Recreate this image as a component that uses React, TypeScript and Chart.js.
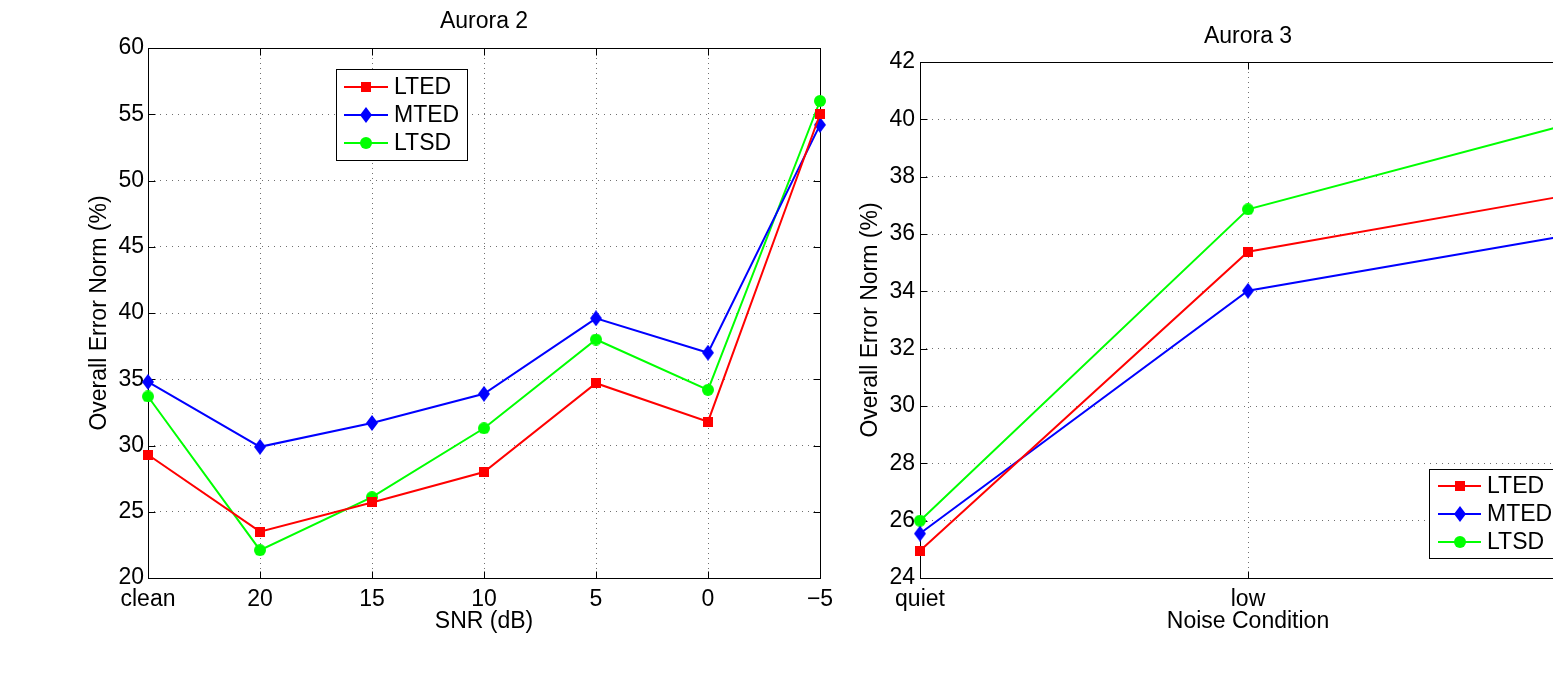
import React, { useEffect, useRef } from 'react';
import { Chart, registerables } from 'chart.js';

Chart.register(...registerables);

const FONT = '"Liberation Sans", Arial, Helvetica, sans-serif';
const FS = 23;

// ---------- data ----------
const seriesNames = ['LTED', 'MTED', 'LTSD'];
const seriesColors = ['#ff0000', '#0000ff', '#00ff00'];

// Aurora 2
const snrLabels = ['clean', '20', '15', '10', '5', '0', '−5'];
const a2LTED = [29.3, 23.5, 25.7, 28.0, 34.7, 31.8, 55.0];
const a2MTED = [34.8, 29.9, 31.7, 33.9, 39.6, 37.0, 54.2];
const a2LTSD = [33.7, 22.1, 26.1, 31.3, 38.0, 34.2, 56.0];
const a2YTicks = [20, 25, 30, 35, 40, 45, 50, 55, 60];

// Aurora 3
const noiseLabels = ['quiet', 'low', 'high'];
const a3LTED = [24.95, 35.38, 37.4];
const a3MTED = [25.55, 34.02, 36.0];
const a3LTSD = [26.0, 36.86, 39.9];
const a3YTicks = [24, 26, 28, 30, 32, 34, 36, 38, 40, 42];

// ---------- markers ----------
function makeMarker(kind: string, color: string): HTMLCanvasElement {
  const c = document.createElement('canvas');
  const ctx = c.getContext('2d')!;
  if (kind === 'square') {
    c.width = 10; c.height = 10;
    ctx.fillStyle = color;
    ctx.fillRect(0, 0, 10, 10);
  } else if (kind === 'diamond') {
    c.width = 12; c.height = 16;
    ctx.fillStyle = color;
    ctx.beginPath();
    ctx.moveTo(6, 0); ctx.lineTo(12, 8); ctx.lineTo(6, 16); ctx.lineTo(0, 8);
    ctx.closePath(); ctx.fill();
  } else {
    c.width = 12; c.height = 12;
    ctx.fillStyle = color;
    ctx.beginPath();
    ctx.arc(6, 6, 6, 0, Math.PI * 2);
    ctx.fill();
  }
  return c;
}

// ---------- plugin: MATLAB-like box, inner ticks, title, legend ----------
const matlabPlugin = {
  id: 'matlab',
  beforeDatasetsDraw(chart: any, _a: any, opts: any) {
    const ctx = chart.ctx;
    const { left, right, top, bottom } = chart.chartArea;
    const L = Math.round(left) + 0.5, R = Math.round(right) + 0.5;
    const T = Math.round(top) + 0.5, B = Math.round(bottom) + 0.5;
    ctx.save();
    ctx.strokeStyle = '#000';
    ctx.lineWidth = 1;
    ctx.setLineDash([]);
    ctx.strokeRect(L, T, R - L, B - T);
    const tl = opts.tickLen || 7;
    ctx.beginPath();
    const xs = chart.scales.x, ys = chart.scales.y;
    xs.ticks.forEach((_t: any, i: number) => {
      const px = Math.round(xs.getPixelForTick(i)) + 0.5;
      ctx.moveTo(px, B); ctx.lineTo(px, B - tl);
      ctx.moveTo(px, T); ctx.lineTo(px, T + tl);
    });
    ys.ticks.forEach((_t: any, i: number) => {
      const py = Math.round(ys.getPixelForTick(i)) + 0.5;
      ctx.moveTo(L, py); ctx.lineTo(L + tl, py);
      ctx.moveTo(R, py); ctx.lineTo(R - tl, py);
    });
    ctx.stroke();
    ctx.restore();
  },
  afterDraw(chart: any, _a: any, opts: any) {
    const ctx = chart.ctx;
    const { left, right } = chart.chartArea;
    ctx.save();
    // title
    ctx.fillStyle = '#000';
    ctx.font = `${opts.titleSize}px ${FONT}`;
    ctx.textAlign = 'center';
    ctx.textBaseline = 'alphabetic';
    ctx.fillText(opts.title, (left + right) / 2, opts.titleY);
    // legend
    const lg = opts.legend;
    ctx.fillStyle = '#fff';
    ctx.fillRect(lg.x, lg.y, lg.w, lg.h);
    ctx.strokeStyle = '#000';
    ctx.lineWidth = 1;
    ctx.strokeRect(lg.x + 0.5, lg.y + 0.5, lg.w, lg.h);
    ctx.font = `${opts.legendSize}px ${FONT}`;
    ctx.textAlign = 'left';
    ctx.textBaseline = 'middle';
    chart.data.datasets.forEach((ds: any, i: number) => {
      const cy = Math.round(lg.y + lg.first + i * lg.row);
      ctx.strokeStyle = ds.borderColor;
      ctx.lineWidth = 2;
      ctx.beginPath();
      ctx.moveTo(lg.x + lg.s1, cy);
      ctx.lineTo(lg.x + lg.s2, cy);
      ctx.stroke();
      const img = ds.pointStyle as HTMLCanvasElement;
      const mx = lg.x + (lg.s1 + lg.s2) / 2;
      ctx.drawImage(img, Math.round(mx - img.width / 2), Math.round(cy - img.height / 2));
      ctx.fillStyle = '#000';
      ctx.fillText(ds.label, lg.x + lg.text, cy + 1);
    });
    ctx.restore();
  },
};

type PanelSpec = {
  canvasLeft: number;
  width: number;
  labels: string[];
  series: number[][];
  yTicks: number[];
  xTitle: string;
  title: string;
  titleY: number;
  padTop: number;
  padRight: number;
  yAxisWidth: number;
  yTitlePad: number;
  yTickPad: number;
  legend: any;
};

const H = 699;
const X_AXIS_H = 121;

function buildConfig(spec: PanelSpec): any {
  const markers = [
    makeMarker('square', seriesColors[0]),
    makeMarker('diamond', seriesColors[1]),
    makeMarker('circle', seriesColors[2]),
  ];
  const datasets = spec.series.map((vals, i) => ({
    label: seriesNames[i],
    data: vals,
    borderColor: seriesColors[i],
    backgroundColor: seriesColors[i],
    borderWidth: 2,
    pointStyle: markers[i],
    pointRadius: 6,
    pointHoverRadius: 6,
    tension: 0,
    fill: false,
    clip: false,
  }));
  const yMin = spec.yTicks[0];
  const yMax = spec.yTicks[spec.yTicks.length - 1];
  return {
    type: 'line',
    data: { labels: spec.labels, datasets },
    options: {
      responsive: false,
      animation: false,
      devicePixelRatio: 1,
      events: [],
      layout: { padding: { left: 0, top: spec.padTop, right: spec.padRight, bottom: 0 } },
      plugins: {
        legend: { display: false },
        title: { display: false },
        tooltip: { enabled: false },
        matlab: {
          title: spec.title,
          titleY: spec.titleY,
          titleSize: FS,
          legendSize: FS,
          tickLen: 7,
          legend: spec.legend,
        },
      },
      scales: {
        x: {
          type: 'category',
          offset: false,
          grid: { display: true, color: '#707070', lineWidth: 1, drawTicks: false },
          border: { display: false, dash: [1, 4] },
          ticks: {
            autoSkip: false,
            maxRotation: 0,
            minRotation: 0,
            padding: 8,
            color: '#000',
            font: { family: FONT, size: FS },
          },
          title: {
            display: true,
            text: spec.xTitle,
            color: '#000',
            font: { family: FONT, size: FS },
            padding: { top: 0, bottom: 64 },
          },
          afterFit: (s: any) => { s.height = X_AXIS_H; },
        },
        y: {
          type: 'linear',
          min: yMin,
          max: yMax,
          grid: { display: true, color: '#707070', lineWidth: 1, drawTicks: false },
          border: { display: false, dash: [1, 5] },
          ticks: {
            padding: spec.yTickPad,
            color: '#000',
            font: { family: FONT, size: FS },
          },
          afterBuildTicks: (s: any) => { s.ticks = spec.yTicks.map((v) => ({ value: v })); },
          title: {
            display: true,
            text: 'Overall Error Norm (%)',
            color: '#000',
            font: { family: FONT, size: FS },
            padding: { top: spec.yTitlePad, bottom: 0 },
          },
          afterFit: (s: any) => { s.width = spec.yAxisWidth; },
        },
      },
    },
    plugins: [matlabPlugin],
  };
}

function Panel({ spec }: { spec: PanelSpec }) {
  const ref = useRef<HTMLCanvasElement>(null);
  useEffect(() => {
    if (!ref.current) return;
    const chart = new Chart(ref.current, buildConfig(spec));
    return () => chart.destroy();
  }, []);
  return (
    <canvas
      ref={ref}
      width={spec.width}
      height={H}
      style={{ position: 'absolute', left: spec.canvasLeft, top: 0, width: spec.width, height: H }}
    />
  );
}

const leftSpec: PanelSpec = {
  canvasLeft: 0,
  width: 850,
  labels: snrLabels,
  series: [a2LTED, a2MTED, a2LTSD],
  yTicks: a2YTicks,
  xTitle: 'SNR (dB)',
  title: 'Aurora 2',
  titleY: 28,
  padTop: 48,
  padRight: 30,
  yAxisWidth: 148,
  yTitlePad: 86,
  yTickPad: 4,
  legend: { x: 336, y: 69, w: 131, h: 91, first: 18, row: 28, s1: 8, s2: 52, text: 58 },
};

const rightSpec: PanelSpec = {
  canvasLeft: 850,
  width: 800,
  labels: noiseLabels,
  series: [a3LTED, a3MTED, a3LTSD],
  yTicks: a3YTicks,
  xTitle: 'Noise Condition',
  title: 'Aurora 3',
  titleY: 43,
  padTop: 62,
  padRight: 74,
  yAxisWidth: 70,
  yTitlePad: 7,
  yTickPad: 5,
  legend: { x: 579, y: 469, w: 131, h: 89, first: 17, row: 28, s1: 9, s2: 52, text: 58 },
};

export default function App() {
  return (
    <div
      style={{
        position: 'fixed',
        left: 0,
        top: 0,
        width: 1553,
        height: 699,
        overflow: 'hidden',
        background: '#fff',
      }}
    >
      <Panel spec={leftSpec} />
      <Panel spec={rightSpec} />
    </div>
  );
}
